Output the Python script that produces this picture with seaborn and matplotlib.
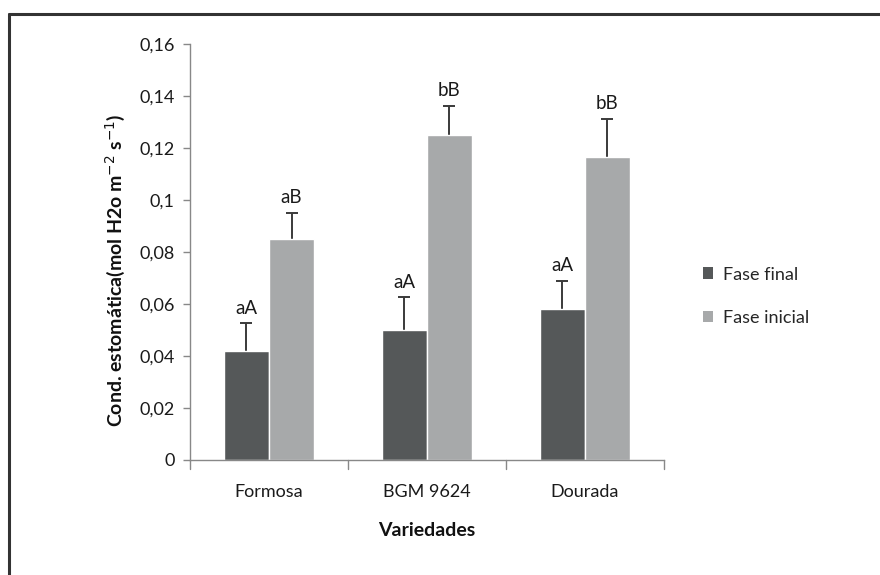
import matplotlib
matplotlib.use("Agg")
import matplotlib.pyplot as plt
import seaborn as sns
import pandas as pd
from matplotlib.lines import Line2D
from matplotlib.patches import Patch

# Stomatal conductance by variety and phase
variedades = ["Formosa", "BGM 9624", "Dourada"]
fases = ["Fase final", "Fase inicial"]
fase_final = [0.042, 0.050, 0.058]
fase_inicial = [0.085, 0.125, 0.1165]
erro_final = [0.0105, 0.0125, 0.011]
erro_inicial = [0.010, 0.0113, 0.0147]
letras_final = ["aA", "aA", "aA"]
letras_inicial = ["aB", "bB", "bB"]
y_ticks = [0, 0.02, 0.04, 0.06, 0.08, 0.10, 0.12, 0.14, 0.16]
y_ticklabels = ["0", "0,02", "0,04", "0,06", "0,08", "0,1", "0,12", "0,14", "0,16"]

cores = ["#555859", "#a7a9aa"]

df = pd.DataFrame({
    "Variedade": variedades * 2,
    "Fase": [fases[0]] * 3 + [fases[1]] * 3,
    "Valor": fase_final + fase_inicial,
})

sns.set_theme(style="white")
plt.rcParams["font.family"] = ["Lato", "DejaVu Sans"]

fig = plt.figure(figsize=(8.8, 5.75), dpi=100)
ax = fig.add_axes([0.2159, 0.2, 0.5386, 0.7235])

sns.barplot(data=df, x="Variedade", y="Valor", hue="Fase", order=variedades,
            hue_order=fases, palette=cores, width=0.57, gap=0, errorbar=None,
            saturation=1, ax=ax, legend=False)
for p in ax.patches:
    p.set_zorder(2)

erros = [erro_final, erro_inicial]
letras = [letras_final, letras_inicial]
valores = [fase_final, fase_inicial]
for cont, err, lab, vals in zip(ax.containers, erros, letras, valores):
    xs = [p.get_x() + p.get_width() / 2 for p in cont.patches]
    # symmetric bars drawn beneath the bars, so only the upper whisker shows
    ax.errorbar(xs, vals, yerr=err, fmt="none", ecolor="#3a3a3a",
                elinewidth=1.4, capsize=4, capthick=1.4, zorder=1)
    for x, v, e, t in zip(xs, vals, err, lab):
        ax.annotate(t, (x, v + e), xytext=(0, 5), textcoords="offset points",
                    ha="center", va="bottom", fontsize=13.5, color="#1a1a1a")

ax.set_xlim(-0.5, 2.5)
ax.set_ylim(0, 0.16)
ax.set_yticks(y_ticks)
ax.set_yticklabels(y_ticklabels, fontsize=13, color="#1a1a1a")
ax.set_xticks([0, 1, 2])
ax.set_xticklabels(variedades, fontsize=13, color="#1a1a1a")
ax.tick_params(axis="x", length=0, pad=17)
ax.tick_params(axis="y", length=5, width=1, color="#888888", left=True, pad=6)

# category boundary ticks on the x axis
for xb in [-0.5, 0.5, 1.5, 2.5]:
    ax.plot([xb, xb], [0, -0.0035], color="#888888", lw=1, clip_on=False)

for s in ["top", "right"]:
    ax.spines[s].set_visible(False)
for s in ["left", "bottom"]:
    ax.spines[s].set_color("#888888")
    ax.spines[s].set_linewidth(1)

ax.set_xlabel("Variedades", fontsize=14, fontweight="bold", color="#111111", labelpad=16)
ax.set_ylabel("Cond. estomática(mol H2o m$^{-2}$ s$^{-1}$)", fontsize=14,
              fontweight="bold", color="#111111", va="center")
ax.yaxis.set_label_coords(-0.158, 0.455)

handles = [Patch(facecolor=c, edgecolor="none") for c in cores]
fig.legend(handles, fases, loc="center left", bbox_to_anchor=(0.78, 0.485),
           frameon=False, fontsize=13, handlelength=0.6, handleheight=0.6,
           handletextpad=0.5, labelspacing=1.5)

# outer frame (left and top edges)
fig.add_artist(Line2D([9 / 880, 9 / 880], [0, 1 - 14 / 575], color="#333333", lw=2.2))
fig.add_artist(Line2D([9 / 880, 1], [1 - 14 / 575, 1 - 14 / 575], color="#333333", lw=2.2))

fig.savefig("out.png", dpi=100, facecolor="white")
